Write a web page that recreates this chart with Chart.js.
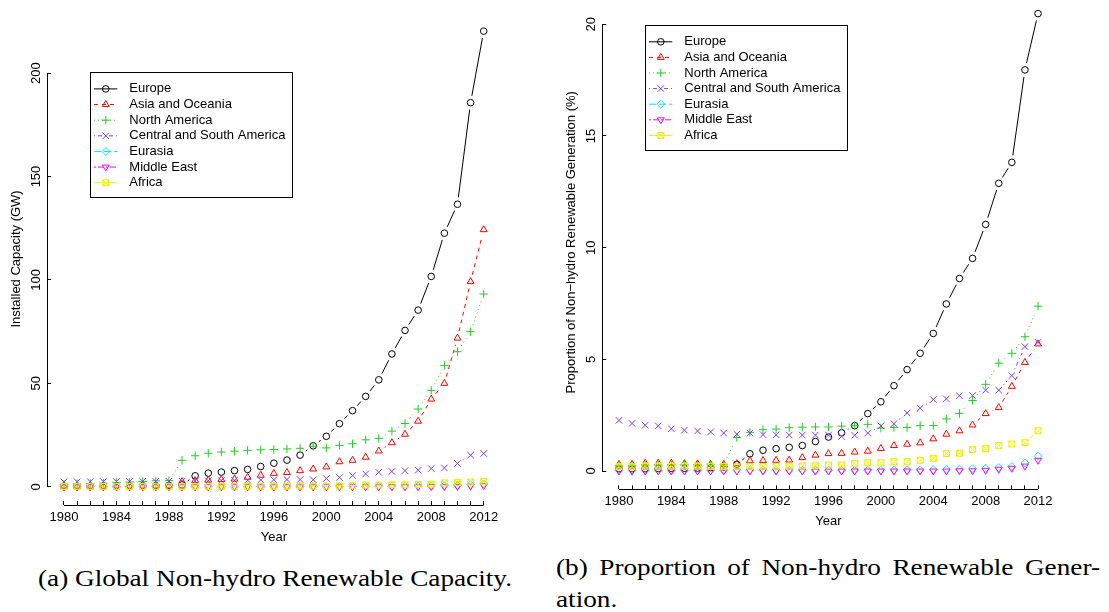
<!DOCTYPE html>
<html lang="en">
<head>
<meta charset="utf-8">
<title>Non-hydro renewable capacity and generation by region, 1980–2012</title>
<script src="https://cdn.jsdelivr.net/npm/chart.js@4.4.1/dist/chart.umd.min.js"></script>
<style>
  html, body { margin: 0; padding: 0; background: #ffffff; }
  body { position: relative; width: 1109px; height: 612px; overflow: hidden; }
  .panel { position: absolute; }
  .caption {
    position: absolute; white-space: nowrap; color: #000;
    font-family: "Liberation Serif", "Times New Roman", serif;
    font-size: 24px; line-height: 24px; transform-origin: 0 50%;
  }
</style>
</head>
<body>
<canvas id="capacityChart" class="panel" width="555" height="555" style="left:0;top:0"></canvas>
<canvas id="shareChart" class="panel" width="554" height="560" style="left:555px;top:-20px"></canvas>
<div id="captionA" class="caption">(a) Global Non-hydro Renewable Capacity.</div>
<div id="captionB1" class="caption">(b) Proportion of Non-hydro Renewable Gener-</div>
<div id="captionB2" class="caption">ation.</div>
<script>
// ---------------------------------------------------------------- data
const years = [1980, 1981, 1982, 1983, 1984, 1985, 1986, 1987, 1988, 1989,
               1990, 1991, 1992, 1993, 1994, 1995, 1996, 1997, 1998, 1999,
               2000, 2001, 2002, 2003, 2004, 2005, 2006, 2007, 2008, 2009,
               2010, 2011, 2012];

const regions = ["Europe", "Asia and Oceania", "North America",
                 "Central and South America", "Eurasia", "Middle East", "Africa"];

// Installed non-hydro renewable capacity (GW)
const capacityEurope = [0.1, 0.1, 0.2, 0.2, 0.3, 0.3, 0.4, 0.5, 0.7, 1.0,
                        5.3, 6.6, 7.1, 7.8, 8.4, 9.8, 11.4, 12.9, 15.3, 19.8,
                        24.4, 30.5, 36.8, 43.7, 51.7, 64.2, 75.6, 85.4, 101.7, 122.6,
                        136.6, 185.7, 220.3];
const capacityAsiaOceania = [0.3, 0.3, 0.3, 0.3, 0.4, 0.4, 0.4, 0.5, 0.5, 2.5,
                             3.0, 3.2, 3.5, 3.7, 4.6, 5.6, 6.5, 6.9, 7.8, 8.6,
                             9.6, 12.1, 12.8, 14.3, 17.3, 21.3, 25.4, 31.7, 42.4, 50.0,
                             71.9, 99.2, 124.3];
const capacityNorthAmerica = [1.2, 1.4, 1.6, 1.8, 2.0, 2.3, 2.6, 2.9, 3.0, 12.8,
                              15.0, 16.2, 16.8, 17.2, 17.6, 17.9, 18.0, 18.3, 18.6, 19.6,
                              18.8, 20.0, 20.8, 22.7, 23.4, 26.9, 30.6, 37.6, 46.6, 58.7,
                              65.3, 75.0, 93.2];
const capacityCentralSouthAmerica = [2.4, 2.4, 2.5, 2.5, 2.5, 2.6, 2.6, 2.6, 2.7, 2.7,
                                     2.8, 2.9, 3.0, 3.1, 3.2, 3.3, 3.4, 3.5, 3.5, 3.4,
                                     4.0, 4.5, 5.4, 6.2, 7.0, 7.4, 7.8, 8.0, 8.8, 9.1,
                                     11.3, 15.3, 16.1];
const capacityEurasia = [0.0, 0.0, 0.0, 0.0, 0.0, 0.0, 0.0, 0.0, 0.0, 0.0,
                         0.0, 0.0, 0.0, 0.0, 0.0, 0.0, 0.0, 0.0, 0.0, 0.0,
                         0.1, 0.1, 0.1, 0.1, 0.2, 0.2, 0.2, 0.3, 0.4, 0.5,
                         0.7, 1.0, 1.4];
const capacityMiddleEast = [0.0, 0.0, 0.0, 0.0, 0.0, 0.0, 0.0, 0.0, 0.0, 0.0,
                            0.0, 0.0, 0.0, 0.0, 0.0, 0.0, 0.0, 0.0, 0.0, 0.0,
                            0.0, 0.0, 0.0, 0.0, 0.0, 0.0, 0.0, 0.0, 0.1, 0.1,
                            0.2, 0.3, 0.5];
const capacityAfrica = [0.1, 0.1, 0.1, 0.1, 0.1, 0.1, 0.1, 0.1, 0.1, 0.1,
                        0.2, 0.2, 0.3, 0.3, 0.3, 0.3, 0.3, 0.3, 0.4, 0.4,
                        0.4, 0.4, 0.5, 0.8, 0.8, 1.0, 1.0, 1.1, 1.3, 1.9,
                        2.1, 2.3, 2.6];

// Non-hydro renewable share of generation (%)
const shareEurope = [0.10, 0.10, 0.10, 0.11, 0.12, 0.12, 0.13, 0.15, 0.18, 0.30,
                     0.77, 0.93, 1.00, 1.06, 1.14, 1.32, 1.52, 1.71, 2.03, 2.57,
                     3.10, 3.82, 4.54, 5.27, 6.16, 7.48, 8.62, 9.52, 11.04, 12.88,
                     13.82, 17.96, 20.48];
const shareAsiaOceania = [0.30, 0.30, 0.35, 0.35, 0.35, 0.33, 0.32, 0.30, 0.30, 0.33,
                          0.46, 0.47, 0.48, 0.49, 0.60, 0.71, 0.78, 0.79, 0.85, 0.89,
                          1.01, 1.14, 1.20, 1.26, 1.44, 1.65, 1.80, 2.06, 2.57, 2.84,
                          3.79, 4.86, 5.69];
const shareNorthAmerica = [0.25, 0.25, 0.27, 0.28, 0.28, 0.28, 0.28, 0.30, 0.30, 1.50,
                           1.73, 1.85, 1.88, 1.94, 1.96, 1.97, 1.97, 2.01, 2.03, 2.09,
                           1.92, 1.95, 1.95, 2.03, 2.04, 2.33, 2.58, 3.16, 3.88, 4.83,
                           5.27, 6.01, 7.38];
const shareCentralSouthAmerica = [2.27, 2.13, 2.05, 2.02, 1.89, 1.83, 1.79, 1.75, 1.70, 1.65,
                                  1.70, 1.63, 1.62, 1.61, 1.61, 1.61, 1.61, 1.55, 1.60, 1.70,
                                  2.02, 2.12, 2.60, 2.81, 3.20, 3.23, 3.37, 3.38, 3.62, 3.62,
                                  4.27, 5.57, 5.76];
const shareEurasia = [0.03, 0.03, 0.03, 0.03, 0.03, 0.03, 0.03, 0.03, 0.03, 0.03,
                      0.03, 0.03, 0.03, 0.03, 0.03, 0.03, 0.03, 0.03, 0.03, 0.03,
                      0.03, 0.04, 0.05, 0.05, 0.06, 0.07, 0.08, 0.10, 0.12, 0.15,
                      0.20, 0.36, 0.66];
const shareMiddleEast = [0.00, 0.00, 0.00, 0.00, 0.00, 0.00, 0.00, 0.00, 0.00, 0.00,
                         0.00, 0.00, 0.00, 0.00, 0.00, 0.00, 0.00, 0.00, 0.00, 0.00,
                         0.00, 0.00, 0.00, 0.00, 0.00, 0.00, 0.01, 0.01, 0.03, 0.08,
                         0.12, 0.22, 0.48];
const shareAfrica = [0.20, 0.20, 0.22, 0.22, 0.22, 0.22, 0.22, 0.21, 0.20, 0.19,
                     0.21, 0.21, 0.21, 0.22, 0.23, 0.24, 0.27, 0.27, 0.34, 0.37,
                     0.37, 0.42, 0.42, 0.48, 0.57, 0.78, 0.80, 0.96, 1.00, 1.14,
                     1.21, 1.27, 1.80];

const capacityTicks = [0, 50, 100, 150, 200];
const shareTicks = [0, 5, 10, 15, 20];
const yearLabelStep = 4;

// ---------------------------------------------------------------- styling
const FONT = '"Liberation Sans", Arial, Helvetica, sans-serif';
const FONT_SIZE = 13;

// square with a cross through it, used as the Africa marker
function squareCrossMarker(color) {
  const c = document.createElement('canvas');
  c.width = 9; c.height = 9;
  const g = c.getContext('2d');
  g.strokeStyle = color; g.lineWidth = 1;
  g.strokeRect(1.5, 1.5, 6, 6);
  g.beginPath();
  g.moveTo(1.5, 1.5); g.lineTo(7.5, 7.5);
  g.moveTo(7.5, 1.5); g.lineTo(1.5, 7.5);
  g.stroke();
  return c;
}

const regionStyles = [
  { color: '#000000', marker: 'circle',   radius: 3.3, rotation: 0,   dash: [] },
  { color: '#ff0000', marker: 'triangle', radius: 4.0, rotation: 0,   dash: [4, 4] },
  { color: '#22cc22', marker: 'cross',    radius: 4.2, rotation: 0,   dash: [1, 3] },
  { color: '#7a3cff', marker: 'crossRot', radius: 4.6, rotation: 0,   dash: [1, 3, 4, 3] },
  { color: '#00e8f8', marker: 'rectRot',  radius: 4.0, rotation: 0,   dash: [7, 3] },
  { color: '#ff00ff', marker: 'triangle', radius: 4.0, rotation: 180, dash: [2, 2, 6, 2] },
  { color: '#eeee00', marker: null,       radius: 4.0, rotation: 0,   dash: [] }
];
regionStyles[6].marker = squareCrossMarker(regionStyles[6].color);

// ---------------------------------------------------------------- plugins
// Lines between consecutive points, broken off short of each marker.
const gappedLines = {
  id: 'gappedLines',
  beforeDatasetsDraw(chart, args, opts) {
    const ctx = chart.ctx;
    const gap = opts.gap;
    chart.data.datasets.forEach((ds, i) => {
      const pts = chart.getDatasetMeta(i).data;
      ctx.save();
      ctx.strokeStyle = ds.borderColor;
      ctx.lineWidth = ds.borderWidth;
      ctx.setLineDash(ds.borderDash || []);
      for (let k = 0; k < pts.length - 1; k++) {
        const a = pts[k], b = pts[k + 1];
        const dx = b.x - a.x, dy = b.y - a.y;
        const len = Math.hypot(dx, dy);
        if (len <= 2 * gap) continue;
        const f = gap / len;
        ctx.beginPath();
        ctx.moveTo(a.x + dx * f, a.y + dy * f);
        ctx.lineTo(b.x - dx * f, b.y - dy * f);
        ctx.stroke();
      }
      ctx.restore();
    });
  }
};

// Axis lines spanning only the tick range, plus rotated y tick labels.
const plainAxes = {
  id: 'plainAxes',
  afterDraw(chart, args, opts) {
    const { ctx, chartArea } = chart;
    const xs = chart.scales.x, ys = chart.scales.y;
    const xv = xs.ticks.map(t => t.value), yv = ys.ticks.map(t => t.value);
    ctx.save();
    ctx.strokeStyle = '#000';
    ctx.lineWidth = 1;
    ctx.setLineDash([]);
    const lx = Math.round(chartArea.left) + 0.5;
    const by = Math.round(chartArea.bottom) + 0.5;
    ctx.beginPath();
    ctx.moveTo(lx, ys.getPixelForValue(Math.min(...yv)));
    ctx.lineTo(lx, ys.getPixelForValue(Math.max(...yv)));
    ctx.moveTo(xs.getPixelForValue(Math.min(...xv)), by);
    ctx.lineTo(xs.getPixelForValue(Math.max(...xv)), by);
    ctx.stroke();

    ctx.fillStyle = '#000';
    ctx.font = FONT_SIZE + 'px ' + FONT;
    ctx.textAlign = 'center';
    ctx.textBaseline = 'alphabetic';
    ys.ticks.forEach(t => {
      ctx.save();
      ctx.translate(chartArea.left - opts.labelOffset, ys.getPixelForValue(t.value));
      ctx.rotate(-Math.PI / 2);
      ctx.fillText(String(t.value), 0, 0);
      ctx.restore();
    });
    ctx.restore();
  }
};

// Boxed key: line sample with its marker, then the region name.
const seriesKey = {
  id: 'seriesKey',
  afterDraw(chart, args, o) {
    const ctx = chart.ctx;
    ctx.save();
    ctx.lineWidth = 1;
    ctx.strokeStyle = '#000';
    ctx.setLineDash([]);
    ctx.strokeRect(Math.round(o.left) + 0.5, Math.round(o.top) + 0.5, o.width, o.height);
    ctx.font = FONT_SIZE + 'px ' + FONT;
    ctx.textBaseline = 'middle';
    ctx.textAlign = 'left';
    chart.data.datasets.forEach((ds, i) => {
      const y = o.top + o.firstRow + i * o.rowHeight;
      ctx.strokeStyle = ds.borderColor;
      ctx.setLineDash(ds.borderDash);
      ctx.beginPath();
      ctx.moveTo(o.left + 4, y);
      ctx.lineTo(o.left + 27.3, y);
      ctx.stroke();
      ctx.setLineDash([]);
      ctx.fillStyle = 'rgba(0,0,0,0)';
      Chart.helpers.drawPoint(ctx, {
        pointStyle: ds.pointStyle, rotation: ds.pointRotation,
        radius: ds.pointRadius, borderWidth: 1
      }, o.left + 15.8, y);
      ctx.fillStyle = '#000';
      ctx.fillText(ds.label, o.left + 39.3, y);
    });
    ctx.restore();
  }
};

// ---------------------------------------------------------------- charts
function paddedRange(values) {
  const lo = Math.min(...values), hi = Math.max(...values);
  const pad = (hi - lo) * 0.04;
  return { min: lo - pad, max: hi + pad };
}

function buildDatasets(seriesList) {
  return seriesList.map((values, i) => {
    const st = regionStyles[i];
    return {
      label: regions[i],
      data: years.map((yr, k) => ({ x: yr, y: values[k] })),
      showLine: false,
      borderColor: st.color,
      borderWidth: 1,
      borderDash: st.dash,
      pointStyle: st.marker,
      pointRotation: st.rotation,
      pointRadius: st.radius,
      pointBorderWidth: 1,
      pointBorderColor: st.color,
      pointBackgroundColor: 'rgba(0,0,0,0)',
      order: seriesList.length - i
    };
  });
}

function makePanel(canvasId, seriesList, yTicks, yTitle, layoutPad, keyBox) {
  const xr = paddedRange(years);
  const yr = paddedRange(seriesList.flat());
  const tickFont = { family: FONT, size: FONT_SIZE };
  return new Chart(document.getElementById(canvasId), {
    type: 'line',
    data: { datasets: buildDatasets(seriesList) },
    options: {
      responsive: false,
      animation: false,
      devicePixelRatio: 1,
      events: [],
      layout: { padding: layoutPad },
      plugins: {
        legend: { display: false },
        tooltip: { enabled: false },
        gappedLines: { gap: 7 },
        plainAxes: { labelOffset: 7 },
        seriesKey: keyBox
      },
      scales: {
        x: {
          type: 'linear', min: xr.min, max: xr.max,
          afterBuildTicks: s => { s.ticks = years.map(v => ({ value: v })); },
          afterFit: s => { s.height = 50; },
          border: { display: false },
          grid: { drawOnChartArea: false, drawTicks: true, tickLength: -4, color: '#000', lineWidth: 1 },
          ticks: {
            autoSkip: false, maxRotation: 0, minRotation: 0, padding: 8.2,
            color: '#000', font: tickFont,
            callback: v => (v % yearLabelStep === 0 ? String(v) : '')
          },
          title: { display: true, text: 'Year', color: '#000', font: tickFont, padding: { top: 0, bottom: 10.2 } }
        },
        y: {
          type: 'linear', min: yr.min, max: yr.max,
          afterBuildTicks: s => { s.ticks = yTicks.map(v => ({ value: v })); },
          afterFit: s => { s.width = 47.2; },
          border: { display: false },
          grid: { drawOnChartArea: false, drawTicks: true, tickLength: -4, color: '#000', lineWidth: 1 },
          ticks: { display: false },
          title: { display: true, text: yTitle, color: '#000', font: tickFont, padding: { top: 8.5, bottom: 0 } }
        }
      }
    },
    plugins: [gappedLines, plainAxes, seriesKey]
  });
}

makePanel('capacityChart',
  [capacityEurope, capacityAsiaOceania, capacityNorthAmerica, capacityCentralSouthAmerica,
   capacityEurasia, capacityMiddleEast, capacityAfrica],
  capacityTicks, 'Installed Capacity (GW)',
  { left: 0, right: 54.5, top: 12.9, bottom: 0 },
  { left: 90, top: 72.3, width: 202, height: 125, firstRow: 16.6, rowHeight: 15.64 });

makePanel('shareChart',
  [shareEurope, shareAsiaOceania, shareNorthAmerica, shareCentralSouthAmerica,
   shareEurasia, shareMiddleEast, shareAfrica],
  shareTicks, 'Proportion of Non\u2212hydro Renewable Generation (%)',
  { left: 0, right: 54.2, top: 15.3, bottom: 0.7 },
  { left: 90, top: 45, width: 202, height: 125, firstRow: 16.8, rowHeight: 15.6 });

// ---------------------------------------------------------------- captions
(function placeCaptions() {
  const probe = document.createElement('canvas').getContext('2d');
  probe.font = '24px "Liberation Serif", "Times New Roman", serif';
  const a = document.getElementById('captionA');
  const b1 = document.getElementById('captionB1');
  const b2 = document.getElementById('captionB2');
  const sx = 474 / probe.measureText(a.textContent).width;
  const wB1 = probe.measureText(b1.textContent).width;
  const spaces = (b1.textContent.match(/ /g) || []).length;
  b1.style.wordSpacing = ((544 / sx - wB1) / spaces) + 'px';
  [[a, 38, 578], [b1, 556, 567], [b2, 556, 599]].forEach(([el, x, cy]) => {
    el.style.left = x + 'px';
    el.style.top = (cy - 12.2) + 'px';
    el.style.transform = 'scaleX(' + sx + ')';
  });
})();
</script>
</body>
</html>
